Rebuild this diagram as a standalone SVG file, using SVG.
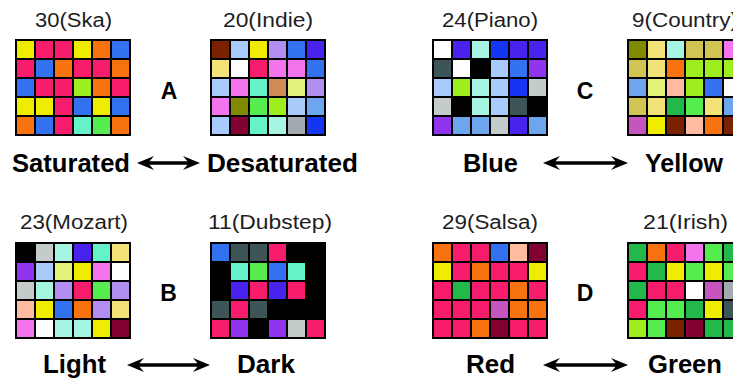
<svg xmlns="http://www.w3.org/2000/svg" width="733" height="382" viewBox="0 0 733 382">
<style>
  .title{font-family:"Liberation Sans",Arial,sans-serif;font-size:20px;fill:#1e1e1e;text-anchor:middle}
  .lab{font-family:"Liberation Sans",Arial,sans-serif;font-size:25px;font-weight:bold;fill:#000}
  .let{font-family:"Liberation Sans",Arial,sans-serif;font-size:23px;font-weight:bold;fill:#000;text-anchor:middle}
  .frame{fill:#000}
  rect.c{width:17px;height:17px}
  .pk{fill:#f81c6c}.ye{fill:#f0ec00}.or{fill:#f8720f}.bl{fill:#3271ef}.lm{fill:#9ded1f}
  .aq{fill:#66f2c8}.gn{fill:#55ec4f}.dg{fill:#22b84a}.br{fill:#7a2200}.lb{fill:#a9cbfc}
  .lv{fill:#b28ef0}.in{fill:#4a22ee}.py{fill:#f2e278}.wh{fill:#fff}.lg{fill:#f474ee}
  .pa{fill:#a5f5e2}.tn{fill:#d08a55}.pl{fill:#e2f27a}.ol{fill:#7f8a00}.cf{fill:#6ea6ee}
  .mr{fill:#820032}.gy{fill:#a3aab0}.db{fill:#1436f2}.ds{fill:#3e5558}.bk{fill:#000}
  .vi{fill:#9034ee}.sv{fill:#c3cbcb}.kh{fill:#d2c452}.pe{fill:#ffbca0}.oc{fill:#c655c0}
  .arrow{fill:#000}
</style>

<!-- Ska palette -->
<g id="ska">
  <text class="title" x="73.5" y="27" textLength="77" lengthAdjust="spacingAndGlyphs">30(Ska)</text>
  <g transform="translate(15,39)">
    <rect class="frame" width="116" height="97"/>
    <g transform="translate(0,2)"><rect class="c ye" x="2"/><rect class="c pk" x="21"/><rect class="c pk" x="40"/><rect class="c ye" x="59"/><rect class="c or" x="78"/><rect class="c bl" x="97"/></g>
    <g transform="translate(0,21)"><rect class="c pk" x="2"/><rect class="c bl" x="21"/><rect class="c or" x="40"/><rect class="c pk" x="59"/><rect class="c pk" x="78"/><rect class="c or" x="97"/></g>
    <g transform="translate(0,40)"><rect class="c bl" x="2"/><rect class="c pk" x="21"/><rect class="c pk" x="40"/><rect class="c lm" x="59"/><rect class="c or" x="78"/><rect class="c pk" x="97"/></g>
    <g transform="translate(0,59)"><rect class="c ye" x="2"/><rect class="c ye" x="21"/><rect class="c pk" x="40"/><rect class="c bl" x="59"/><rect class="c ye" x="78"/><rect class="c bl" x="97"/></g>
    <g transform="translate(0,78)"><rect class="c or" x="2"/><rect class="c bl" x="21"/><rect class="c pk" x="40"/><rect class="c aq" x="59"/><rect class="c gn" x="78"/><rect class="c or" x="97"/></g>
  </g>
</g>

<!-- Indie palette -->
<g id="indie">
  <text class="title" x="268" y="27" textLength="90" lengthAdjust="spacingAndGlyphs">20(Indie)</text>
  <g transform="translate(210,39)">
    <rect class="frame" width="116" height="97"/>
    <g transform="translate(0,2)"><rect class="c br" x="2"/><rect class="c lb" x="21"/><rect class="c ye" x="40"/><rect class="c lv" x="59"/><rect class="c bl" x="78"/><rect class="c in" x="97"/></g>
    <g transform="translate(0,21)"><rect class="c py" x="2"/><rect class="c wh" x="21"/><rect class="c pk" x="40"/><rect class="c lg" x="59"/><rect class="c lg" x="78"/><rect class="c bl" x="97"/></g>
    <g transform="translate(0,40)"><rect class="c lb" x="2"/><rect class="c lg" x="21"/><rect class="c aq" x="40"/><rect class="c tn" x="59"/><rect class="c pl" x="78"/><rect class="c lv" x="97"/></g>
    <g transform="translate(0,59)"><rect class="c lg" x="2"/><rect class="c ol" x="21"/><rect class="c gn" x="40"/><rect class="c lm" x="59"/><rect class="c lb" x="78"/><rect class="c cf" x="97"/></g>
    <g transform="translate(0,78)"><rect class="c lb" x="2"/><rect class="c mr" x="21"/><rect class="c aq" x="40"/><rect class="c pa" x="59"/><rect class="c gy" x="78"/><rect class="c db" x="97"/></g>
  </g>
</g>

<!-- Piano palette -->
<g id="piano">
  <text class="title" x="490" y="27" textLength="96" lengthAdjust="spacingAndGlyphs">24(Piano)</text>
  <g transform="translate(432,39)">
    <rect class="frame" width="116" height="97"/>
    <g transform="translate(0,2)"><rect class="c wh" x="2"/><rect class="c in" x="21"/><rect class="c pa" x="40"/><rect class="c db" x="59"/><rect class="c in" x="78"/><rect class="c in" x="97"/></g>
    <g transform="translate(0,21)"><rect class="c ds" x="2"/><rect class="c wh" x="21"/><rect class="c bk" x="40"/><rect class="c lb" x="59"/><rect class="c bl" x="78"/><rect class="c vi" x="97"/></g>
    <g transform="translate(0,40)"><rect class="c lb" x="2"/><rect class="c lm" x="21"/><rect class="c pa" x="40"/><rect class="c lb" x="59"/><rect class="c db" x="78"/><rect class="c sv" x="97"/></g>
    <g transform="translate(0,59)"><rect class="c sv" x="2"/><rect class="c bk" x="21"/><rect class="c pa" x="40"/><rect class="c lb" x="59"/><rect class="c ds" x="78"/><rect class="c bk" x="97"/></g>
    <g transform="translate(0,78)"><rect class="c vi" x="2"/><rect class="c cf" x="21"/><rect class="c cf" x="40"/><rect class="c sv" x="59"/><rect class="c in" x="78"/><rect class="c cf" x="97"/></g>
  </g>
</g>

<!-- Country palette -->
<g id="country">
  <text class="title" x="632" y="27" style="text-anchor:start" textLength="106" lengthAdjust="spacingAndGlyphs">9(Country)</text>
  <g transform="translate(627,39)">
    <rect class="frame" width="116" height="97"/>
    <g transform="translate(0,2)"><rect class="c ol" x="2"/><rect class="c py" x="21"/><rect class="c pa" x="40"/><rect class="c kh" x="59"/><rect class="c kh" x="78"/><rect class="c lg" x="97"/></g>
    <g transform="translate(0,21)"><rect class="c kh" x="2"/><rect class="c py" x="21"/><rect class="c or" x="40"/><rect class="c lm" x="59"/><rect class="c lm" x="78"/><rect class="c lm" x="97"/></g>
    <g transform="translate(0,40)"><rect class="c cf" x="2"/><rect class="c pl" x="21"/><rect class="c pe" x="40"/><rect class="c lm" x="59"/><rect class="c bl" x="78"/><rect class="c wh" x="97"/></g>
    <g transform="translate(0,59)"><rect class="c kh" x="2"/><rect class="c py" x="21"/><rect class="c dg" x="40"/><rect class="c gn" x="59"/><rect class="c py" x="78"/><rect class="c cf" x="97"/></g>
    <g transform="translate(0,78)"><rect class="c oc" x="2"/><rect class="c ye" x="21"/><rect class="c br" x="40"/><rect class="c pe" x="59"/><rect class="c or" x="78"/><rect class="c br" x="97"/></g>
  </g>
</g>

<!-- Mozart palette -->
<g id="mozart">
  <text class="title" x="74" y="229" textLength="108" lengthAdjust="spacingAndGlyphs">23(Mozart)</text>
  <g transform="translate(15,242)">
    <rect class="frame" width="116" height="97"/>
    <g transform="translate(0,2)"><rect class="c bk" x="2"/><rect class="c sv" x="21"/><rect class="c pa" x="40"/><rect class="c in" x="59"/><rect class="c aq" x="78"/><rect class="c py" x="97"/></g>
    <g transform="translate(0,21)"><rect class="c vi" x="2"/><rect class="c lb" x="21"/><rect class="c pl" x="40"/><rect class="c ye" x="59"/><rect class="c lg" x="78"/><rect class="c wh" x="97"/></g>
    <g transform="translate(0,40)"><rect class="c sv" x="2"/><rect class="c pa" x="21"/><rect class="c lv" x="40"/><rect class="c pk" x="59"/><rect class="c gn" x="78"/><rect class="c lv" x="97"/></g>
    <g transform="translate(0,59)"><rect class="c pe" x="2"/><rect class="c ye" x="21"/><rect class="c bl" x="40"/><rect class="c or" x="59"/><rect class="c lv" x="78"/><rect class="c py" x="97"/></g>
    <g transform="translate(0,78)"><rect class="c lg" x="2"/><rect class="c wh" x="21"/><rect class="c pa" x="40"/><rect class="c pa" x="59"/><rect class="c ye" x="78"/><rect class="c mr" x="97"/></g>
  </g>
</g>

<!-- Dubstep palette -->
<g id="dubstep">
  <text class="title" x="270" y="229" textLength="124" lengthAdjust="spacingAndGlyphs">11(Dubstep)</text>
  <g transform="translate(210,242)">
    <rect class="frame" width="116" height="97"/>
    <g transform="translate(0,2)"><rect class="c bl" x="2"/><rect class="c ds" x="21"/><rect class="c ds" x="40"/><rect class="c pk" x="59"/><rect class="c bk" x="78"/><rect class="c bk" x="97"/></g>
    <g transform="translate(0,21)"><rect class="c bk" x="2"/><rect class="c aq" x="21"/><rect class="c gn" x="40"/><rect class="c bl" x="59"/><rect class="c aq" x="78"/><rect class="c bk" x="97"/></g>
    <g transform="translate(0,40)"><rect class="c bk" x="2"/><rect class="c in" x="21"/><rect class="c pk" x="40"/><rect class="c in" x="59"/><rect class="c pk" x="78"/><rect class="c bk" x="97"/></g>
    <g transform="translate(0,59)"><rect class="c ds" x="2"/><rect class="c pk" x="21"/><rect class="c ds" x="40"/><rect class="c bk" x="59"/><rect class="c bk" x="78"/><rect class="c bk" x="97"/></g>
    <g transform="translate(0,78)"><rect class="c pk" x="2"/><rect class="c vi" x="21"/><rect class="c bk" x="40"/><rect class="c vi" x="59"/><rect class="c sv" x="78"/><rect class="c pk" x="97"/></g>
  </g>
</g>

<!-- Salsa palette -->
<g id="salsa">
  <text class="title" x="490" y="229" textLength="96" lengthAdjust="spacingAndGlyphs">29(Salsa)</text>
  <g transform="translate(432,242)">
    <rect class="frame" width="116" height="97"/>
    <g transform="translate(0,2)"><rect class="c or" x="2"/><rect class="c pk" x="21"/><rect class="c pk" x="40"/><rect class="c bl" x="59"/><rect class="c pe" x="78"/><rect class="c mr" x="97"/></g>
    <g transform="translate(0,21)"><rect class="c ye" x="2"/><rect class="c pk" x="21"/><rect class="c or" x="40"/><rect class="c pk" x="59"/><rect class="c pk" x="78"/><rect class="c ye" x="97"/></g>
    <g transform="translate(0,40)"><rect class="c pk" x="2"/><rect class="c dg" x="21"/><rect class="c pk" x="40"/><rect class="c pk" x="59"/><rect class="c or" x="78"/><rect class="c pk" x="97"/></g>
    <g transform="translate(0,59)"><rect class="c pk" x="2"/><rect class="c pk" x="21"/><rect class="c pk" x="40"/><rect class="c oc" x="59"/><rect class="c or" x="78"/><rect class="c or" x="97"/></g>
    <g transform="translate(0,78)"><rect class="c pk" x="2"/><rect class="c pk" x="21"/><rect class="c or" x="40"/><rect class="c mr" x="59"/><rect class="c pk" x="78"/><rect class="c pk" x="97"/></g>
  </g>
</g>

<!-- Irish palette -->
<g id="irish">
  <text class="title" x="685.5" y="229" textLength="85" lengthAdjust="spacingAndGlyphs">21(Irish)</text>
  <g transform="translate(627,242)">
    <rect class="frame" width="116" height="97"/>
    <g transform="translate(0,2)"><rect class="c dg" x="2"/><rect class="c or" x="21"/><rect class="c pk" x="40"/><rect class="c lg" x="59"/><rect class="c gn" x="78"/><rect class="c dg" x="97"/></g>
    <g transform="translate(0,21)"><rect class="c pk" x="2"/><rect class="c dg" x="21"/><rect class="c ye" x="40"/><rect class="c gn" x="59"/><rect class="c ye" x="78"/><rect class="c gn" x="97"/></g>
    <g transform="translate(0,40)"><rect class="c dg" x="2"/><rect class="c pk" x="21"/><rect class="c pk" x="40"/><rect class="c wh" x="59"/><rect class="c oc" x="78"/><rect class="c gy" x="97"/></g>
    <g transform="translate(0,59)"><rect class="c pk" x="2"/><rect class="c gn" x="21"/><rect class="c gn" x="40"/><rect class="c dg" x="59"/><rect class="c ye" x="78"/><rect class="c ds" x="97"/></g>
    <g transform="translate(0,78)"><rect class="c lm" x="2"/><rect class="c gn" x="21"/><rect class="c br" x="40"/><rect class="c mr" x="59"/><rect class="c dg" x="78"/><rect class="c dg" x="97"/></g>
  </g>
</g>

<!-- pair letters -->
<g id="letters">
  <text class="let" x="169" y="98.5">A</text>
  <text class="let" x="168.5" y="300.5">B</text>
  <text class="let" x="585" y="98.5">C</text>
  <text class="let" x="585" y="300.5">D</text>
</g>

<!-- axis labels -->
<g id="labels">
  <text class="lab" x="12" y="172" textLength="118" lengthAdjust="spacingAndGlyphs">Saturated</text>
  <text class="lab" x="207" y="172" textLength="151" lengthAdjust="spacingAndGlyphs">Desaturated</text>
  <text class="lab" x="463" y="172" textLength="55" lengthAdjust="spacingAndGlyphs">Blue</text>
  <text class="lab" x="645" y="172" textLength="78" lengthAdjust="spacingAndGlyphs">Yellow</text>
  <text class="lab" x="43" y="373" textLength="63" lengthAdjust="spacingAndGlyphs">Light</text>
  <text class="lab" x="237" y="373" textLength="58" lengthAdjust="spacingAndGlyphs">Dark</text>
  <text class="lab" x="466" y="373" textLength="49" lengthAdjust="spacingAndGlyphs">Red</text>
  <text class="lab" x="648" y="373" textLength="74" lengthAdjust="spacingAndGlyphs">Green</text>
</g>

<!-- double-headed arrows between paired labels -->
<g id="connectors">
  <path class="arrow" d="M137,163 L154,156 L149.5,161.2 L187.5,161.2 L183,156 L200,163 L183,170 L187.5,164.8 L149.5,164.8 L154,170 Z"/>
  <path class="arrow" d="M543,163 L560,156 L555.5,161.2 L615.5,161.2 L611,156 L628,163 L611,170 L615.5,164.8 L555.5,164.8 L560,170 Z"/>
  <path class="arrow" d="M127,365 L144,358 L139.5,363.2 L197.5,363.2 L193,358 L210,365 L193,372 L197.5,366.8 L139.5,366.8 L144,372 Z"/>
  <path class="arrow" d="M543,365 L560,358 L555.5,363.2 L615.5,363.2 L611,358 L628,365 L611,372 L615.5,366.8 L555.5,366.8 L560,372 Z"/>
</g>
</svg>
